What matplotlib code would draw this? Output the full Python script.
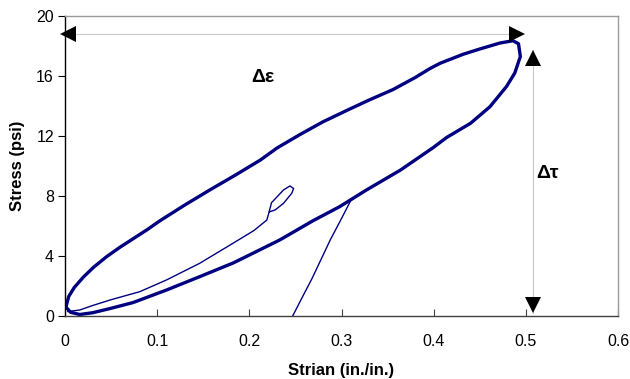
import matplotlib
matplotlib.use("Agg")
import matplotlib.pyplot as plt

plt.rcParams['font.family'] = ['Liberation Sans', 'DejaVu Sans']

# Hysteresis loop: upper (loading) branch, from origin to peak
upper_strain = [0.001, 0.004, 0.010, 0.020, 0.031, 0.045, 0.060, 0.089, 0.103, 0.130,
                0.157, 0.185, 0.212, 0.230, 0.255, 0.280, 0.309, 0.330, 0.356, 0.380,
                0.396, 0.407, 0.432, 0.450, 0.472, 0.486, 0.492]
upper_stress = [0.6, 1.3, 1.9, 2.6, 3.25, 3.95, 4.6, 5.75, 6.35, 7.4,
                8.4, 9.4, 10.4, 11.2, 12.1, 12.95, 13.8, 14.4, 15.1, 15.9,
                16.5, 16.85, 17.45, 17.8, 18.2, 18.35, 18.15]
# Lower (unloading) branch, from peak back to origin
lower_strain = [0.492, 0.494, 0.488, 0.479, 0.461, 0.440, 0.414, 0.400, 0.364, 0.327,
                0.298, 0.269, 0.233, 0.183, 0.146, 0.110, 0.074, 0.049, 0.030, 0.016,
                0.006, 0.001]
lower_stress = [18.15, 17.3, 16.2, 15.3, 13.95, 12.85, 11.9, 11.25, 9.73, 8.4,
                7.29, 6.35, 5.07, 3.55, 2.62, 1.73, 0.9, 0.5, 0.22, 0.1,
                0.25, 0.6]
# Initial loading path (thin)
init_strain = [0.247, 0.257, 0.268, 0.278, 0.288, 0.300, 0.310, 0.316]
init_stress = [0.0, 1.2, 2.5, 3.8, 5.1, 6.5, 7.7, 8.0]
# Final unloading path with small loop (thin)
final_strain = [0.003, 0.016, 0.030, 0.049, 0.081, 0.110, 0.146, 0.182, 0.205, 0.219,
                0.222, 0.224, 0.237, 0.244, 0.248, 0.246, 0.237, 0.228, 0.222]
final_stress = [0.3, 0.4, 0.7, 1.07, 1.62, 2.4, 3.51, 4.84, 5.7, 6.4,
                7.07, 7.55, 8.4, 8.67, 8.5, 8.18, 7.51, 7.07, 6.95]

# Annotation geometry (data units)
de_y = 18.8
de_x = [0.0035, 0.4907]
dt_x = 0.508
dt_y = [0.18, 17.73]

fig = plt.figure(figsize=(6.3, 3.79), dpi=100)
ax = fig.add_axes([0.1032, 0.1662, 0.8778, 0.7916])

navy = '#000080'
ax.plot(upper_strain + lower_strain, upper_stress + lower_stress, color=navy, lw=2.4,
        solid_joinstyle='round', solid_capstyle='round')
ax.plot(init_strain, init_stress, color=navy, lw=1.0)
ax.plot(final_strain, final_stress, color=navy, lw=1.0)

# Δε arrow
ax.plot(de_x, [de_y, de_y], color='#c8c8c8', lw=0.8, zorder=1)
ax.plot([de_x[0]], [de_y], marker='<', color='black', ms=11, mew=0, clip_on=False)
ax.plot([de_x[1]], [de_y], marker='>', color='black', ms=11, mew=0, clip_on=False)
# Δτ arrow
ax.plot([dt_x, dt_x], dt_y, color='#c8c8c8', lw=0.8, zorder=1)
ax.plot([dt_x], [dt_y[1] - 0.55], marker='^', color='black', ms=12, mew=0)
ax.plot([dt_x], [dt_y[0] + 0.55], marker='v', color='black', ms=12, mew=0)

ax.text(0.215, 15.9, 'Δε', fontsize=14, fontweight='bold', ha='center', va='center')
ax.text(0.511, 9.5, 'Δτ', fontsize=14, fontweight='bold', ha='left', va='center')

ax.set_xlim(0, 0.6)
ax.set_ylim(0, 20)
ax.set_xticks([0, 0.1, 0.2, 0.3, 0.4, 0.5, 0.6])
ax.set_xticklabels(['0', '0.1', '0.2', '0.3', '0.4', '0.5', '0.6'])
ax.set_yticks([0, 4, 8, 12, 16, 20])
ax.tick_params(axis='x', direction='in', length=5, labelsize=11.5, pad=13, color='#404040')
ax.tick_params(axis='y', direction='out', length=5, labelsize=11.5, pad=3)

ax.spines['left'].set_color('black')
ax.spines['bottom'].set_color('#404040')
ax.spines['top'].set_color('#999999')
ax.spines['right'].set_color('#999999')
for s in ax.spines.values():
    s.set_linewidth(1.0)

ax.set_xlabel('Strian (in./in.)', fontsize=12, fontweight='bold', labelpad=10)
ax.set_ylabel('Stress (psi)', fontsize=12, fontweight='bold', labelpad=8)

fig.savefig('out.png', dpi=100)
